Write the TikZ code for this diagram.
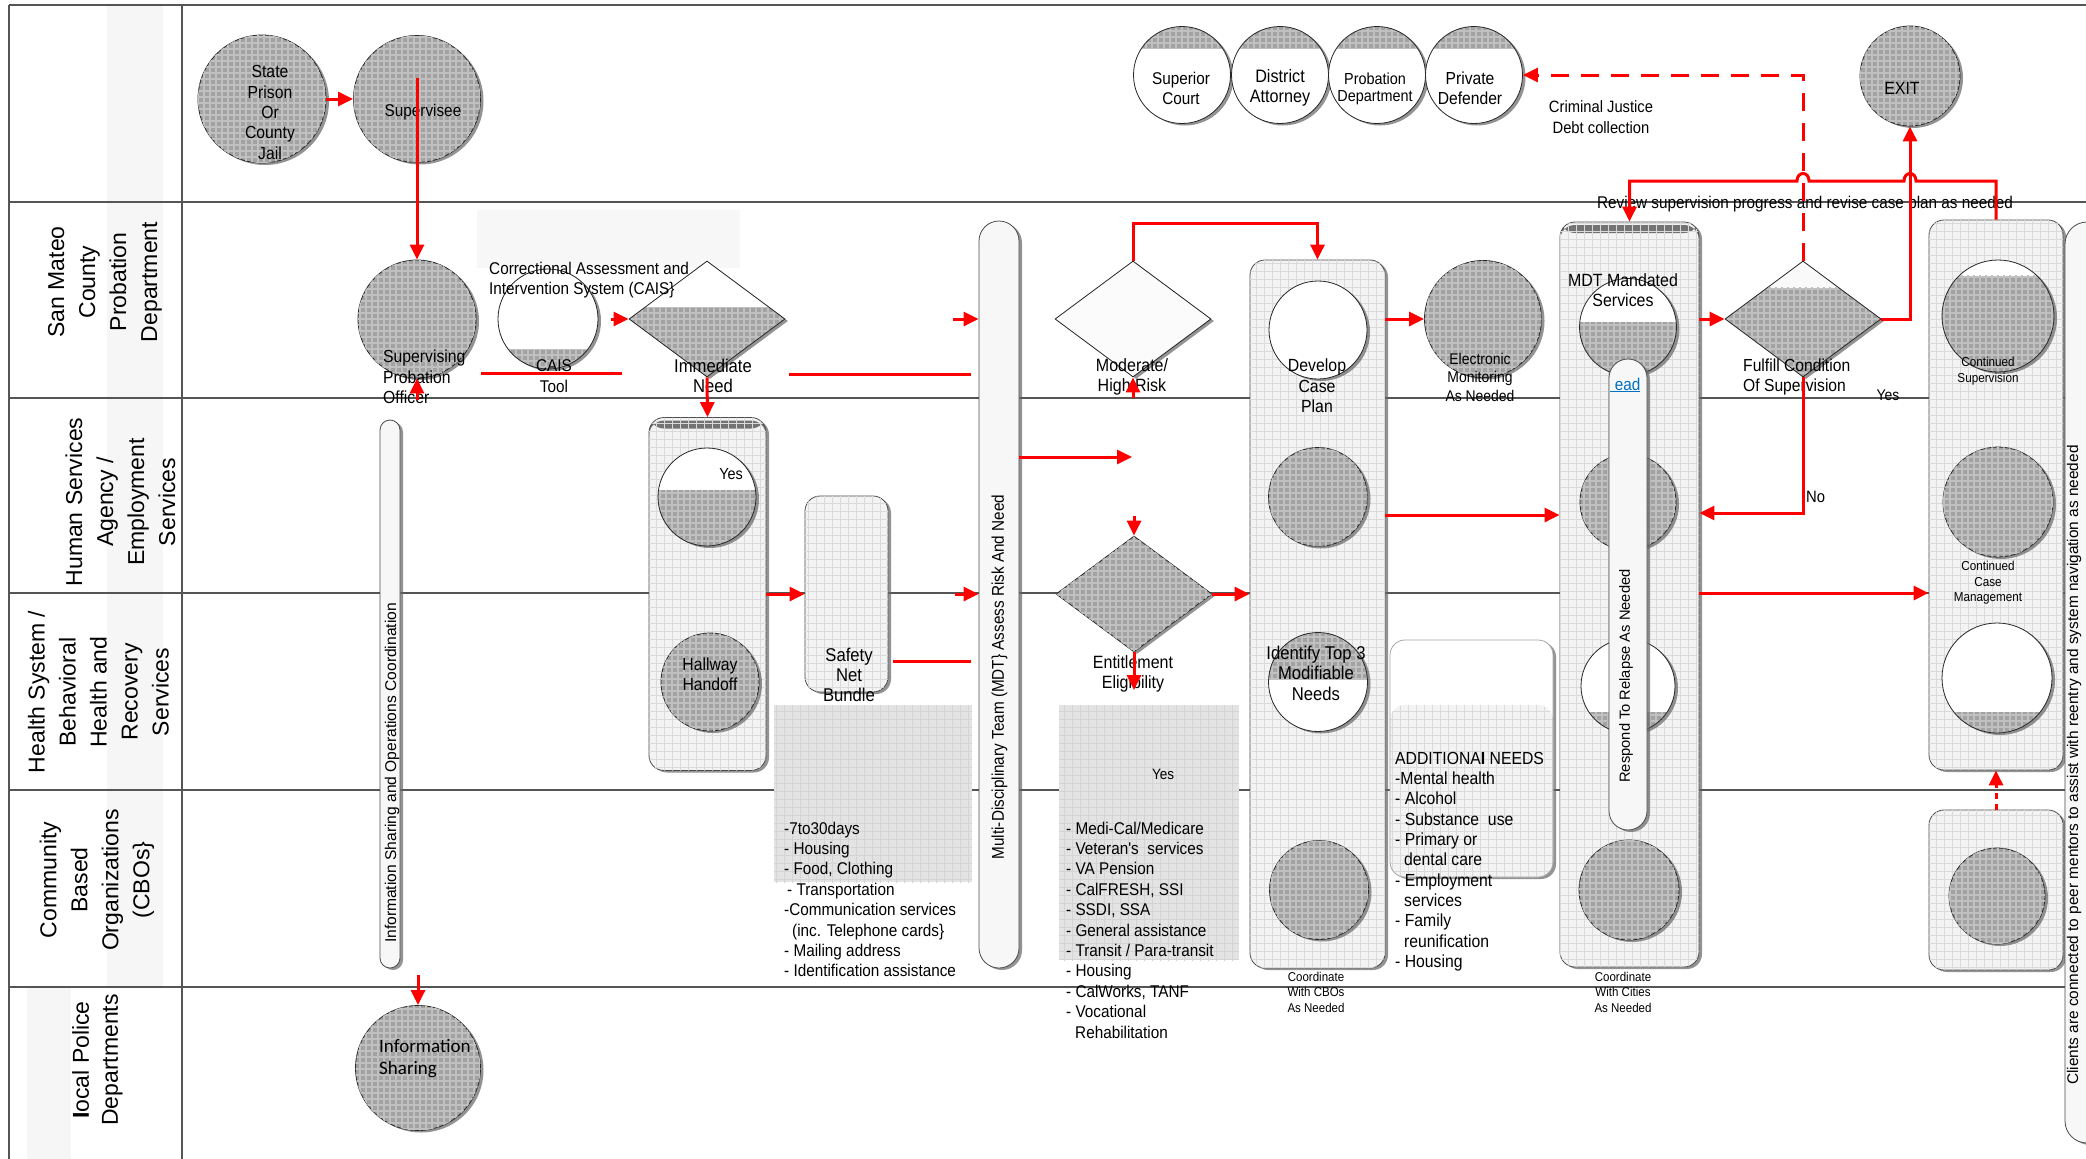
\documentclass[tikz,border=0pt]{standalone}
\usepackage{fontspec}
\setmainfont{Liberation Sans}
\newfontfamily\nf[FakeStretch=0.9]{Liberation Sans}
\newfontfamily\cf{Carlito}
\usetikzlibrary{shapes.geometric,arrows.meta,patterns.meta,shadows,calc}
\newcommand\myfs[2]{\fontsize{#1}{#2}\selectfont}
\definecolor{cg}{RGB}{162,162,162}
\definecolor{cgl}{RGB}{192,192,192}
\definecolor{lanec}{RGB}{85,85,85}
\definecolor{boxf}{RGB}{243,243,243}
\definecolor{boxg}{RGB}{218,218,218}
\definecolor{linkc}{RGB}{0,112,192}
\tikzset{
  gfill/.style={fill=cg, postaction={pattern={Hatch[angle=0,distance=6pt,line width=1.2pt]}, pattern color=cgl}},
  bfill/.style={fill=boxf, postaction={pattern={Hatch[angle=0,distance=8pt,line width=0.5pt]}, pattern color=boxg}},
  lfill/.style={fill=black!11, postaction={pattern={Hatch[angle=0,distance=8pt,line width=0.5pt]}, pattern color=black!17}},
  shad/.style={drop shadow={shadow xshift=3pt,shadow yshift=-2pt,fill=black!60,opacity=0.7}},
  circ/.style={circle, draw=black!85, line width=0.8pt, inner sep=0pt, minimum size=#1, shad},
  gcirc/.style={circ=#1, gfill},
  wcirc/.style={circ=#1, fill=white},
  botg/.style={path picture={\path[gfill] ($(path picture bounding box.south west)!#1!(path picture bounding box.north west)$) rectangle (path picture bounding box.south east);}},
  topg/.style={path picture={\path[gfill] ($(path picture bounding box.north west)!#1!(path picture bounding box.south west)$) rectangle (path picture bounding box.north east);}},
  botb/.style={path picture={\path[bfill] ($(path picture bounding box.south west)!#1!(path picture bounding box.north west)$) rectangle (path picture bounding box.south east);}},
  topbar/.style={path picture={\fill[black!55] ([yshift=-3pt]path picture bounding box.north west) rectangle ([yshift=-11pt]path picture bounding box.north east);}},
  dia/.style={diamond, draw=black!85, line width=0.8pt, inner sep=0pt, minimum width=156pt, minimum height=116pt, shad},
  rbox/.style={rectangle, rounded corners=15pt, draw=black!70, line width=0.8pt, inner sep=0pt, bfill, shad},
  lbg/.style={rectangle, inner sep=0pt, lfill},
  bar/.style={rectangle, rounded corners=#1, draw=black!70, line width=0.8pt, inner sep=0pt, fill=gray!6, shad},
  lane/.style={draw=lanec, line width=2pt},
  rl/.style={draw=red, line width=3pt},
  ra/.style={rl, -{Triangle[length=15pt,width=14pt]}},
  txt/.style={inner sep=0pt, align=center, font=\nf\myfs{17}{20.5}},
  lanelab/.style={inner sep=0pt, align=center, rotate=90, font=\myfs{23}{31}},
}
\begin{document}
\begin{tikzpicture}[x=1pt,y=-1pt]
\useasboundingbox (0,0) rectangle (2086,1159);
\fill[white] (0,0) rectangle (2086,1159);
% label bands
\fill[gray!7] (107,5) rectangle (163,987);
\fill[gray!7] (27,987) rectangle (71,1159);
% lane lines
\foreach \yy in {5,202,398,593,790,987} {\draw[lane] (9,\yy) -- (2086,\yy);}
\draw[lane] (9,5) -- (9,1159);
\draw[lane] (182,5) -- (182,1159);
% faint block
\node[rectangle, inner sep=0pt, fill=gray!6, minimum width=263pt, minimum height=58pt] (faint) at (608.5,239) {};
% boxes
\node[rbox, topbar, minimum width=117pt, minimum height=353pt] (yesbox) at (707.5,594) {};
\node[rbox, minimum width=83pt, minimum height=196pt] (safetybox) at (846.5,594) {};
\node[rbox, minimum width=135pt, minimum height=708pt] (devbox) at (1317.5,614) {};
\node[rbox, topbar, minimum width=139pt, minimum height=745pt] (mdtbox) at (1629.5,594.5) {};
\node[rbox, minimum width=134pt, minimum height=550pt] (contbox) at (1996,495) {};
\node[rbox, minimum width=134pt, minimum height=160pt] (cbobox) at (1996,890) {};
\node[rectangle, rounded corners=15pt, draw=black!35, line width=0.8pt, inner sep=0pt, fill=white, botb=0.726, shad, minimum width=163pt, minimum height=237pt] (addbox) at (1471.5,758.5) {};
% list backgrounds
\node[lbg, minimum width=198pt, minimum height=177pt] (sbg) at (873,793.5) {};
\node[lbg, minimum width=180pt, minimum height=255pt] (ebg) at (1149,832.5) {};
% diamonds
\node[dia, fill=white, botg=0.6] (imm) at (707,319) {};
\node[dia, fill=gray!3] (mod) at (1133,319) {};
\node[dia, gfill] (ent) at (1134,594) {};
\node[dia, fill=gray!5, botg=0.77] (ful) at (1803,319) {};
% circles
\node[gcirc=128pt] (prison) at (262,99) {};
\node[gcirc=127pt] (supervisee) at (417,99) {};
\node[gcirc=118pt] (spo) at (417,319) {};
\node[wcirc=100pt, botg=0.2] (cais) at (548,319) {};
\node[wcirc=97pt, topg=0.23] (superior) at (1182,75) {};
\node[wcirc=97pt, topg=0.23] (district) at (1280,75) {};
\node[wcirc=97pt, topg=0.23] (probdep) at (1377,75) {};
\node[wcirc=97pt, topg=0.23] (pd) at (1474,75) {};
\node[gcirc=100pt] (exit) at (1910,76) {};
\node[wcirc=98pt, botg=0.57] (yescirc) at (707,497) {};
\node[gcirc=98pt] (hallway) at (710,682) {};
\node[wcirc=98pt] (devc) at (1318,330) {};
\node[gcirc=99pt] (devc2) at (1318,497) {};
\node[wcirc=99pt, topg=0.47] (idc) at (1318,682) {};
\node[gcirc=99pt] (devc4) at (1319,890) {};
\node[gcirc=117pt] (em) at (1483,319) {};
\node[wcirc=97pt, botg=0.55] (mdtc) at (1628,327) {};
\node[gcirc=96pt] (mdtc2) at (1628,502) {};
\node[wcirc=94pt, botg=0.22] (mdtc3) at (1628,686) {};
\node[gcirc=100pt] (mdtc4) at (1629,890) {};
\node[wcirc=112pt, botg=0.86] (contc) at (1998,316) {};
\node[gcirc=110pt] (ccm) at (1998,502) {};
\node[wcirc=110pt, botg=0.19] (rc3) at (1997,678) {};
\node[gcirc=96pt] (cboc) at (1997,896) {};
\node[gcirc=125pt] (infoc) at (418,1068) {};
% bars
\node[bar=10pt, minimum width=20pt, minimum height=548pt] (infobar) at (390,694) {};
\node[bar=20pt, minimum width=40pt, minimum height=747pt] (mdtbar) at (999,594.5) {};
\node[bar=19pt, minimum width=38pt, minimum height=471pt] (respbar) at (1628,594.5) {};
\node[bar=22pt, minimum width=45pt, minimum height=921pt] (peerbar) at (2087.5,682.5) {};
% lane labels
\node[lanelab] (lab2) at (105,282) {San Mateo\\County\\Probation\\Department};
\node[lanelab] (lab3) at (120.5,502) {Human Services\\Agency /\\Employment\\Services};
\node[lanelab] (lab4) at (98.5,692) {Health System /\\Behavioral\\Health and\\Recovery\\Services};
\node[lanelab] (lab5) at (97,880) {Community\\Based\\Organizations\\(CBOs\}};
\node[lanelab, font=\myfs{23}{29}] (lab6) at (97.5,1060) {{\bfseries I}ocal Police\\Departments};
% texts
\node[txt, font=\nf\myfs{17.5}{20.3}] (tprison) at (270,112.5) {State\\Prison\\Or\\County\\Jail};
\node[txt] (tsup) at (423,112) {Supervisee};
\node[txt, anchor=west, align=left, font=\nf\myfs{17.5}{20.5}] (tspo) at (383,377) {Supervising\\Probation\\Officer};
\node[txt] (tcais) at (554,376) {CAIS\\Tool};
\node[txt, anchor=west, align=left, font=\nf\myfs{17}{20}] (tcorr) at (489,280) {Correctional Assessment and\\Intervention System (CAIS\}};
\node[txt, font=\nf\myfs{18.5}{20}] (timm) at (713,376) {Immediate\\Need};
\node[txt, font=\nf\myfs{16}{20}] (tyes1) at (731,474) {Yes};
\node[txt, font=\nf\myfs{17.5}{20}] (thall) at (710,674) {Hallway\\Handoff};
\node[txt, font=\nf\myfs{18.5}{20}] (tsafe) at (849,675) {Safety\\Net\\Bundle};
\node[txt, anchor=west, align=left, font=\nf\myfs{17}{20.4}] (tslist) at (784,899.5) {-7to30days\\- Housing\\- Food, Clothing\\\hspace{3pt}- Transportation\\-Communication services\\\hspace{8pt}(inc. Telephone cards\}\\- Mailing address\\- Identification assistance};
\node[txt, font=\nf\myfs{15}{18}] (tyes2) at (1163,774) {Yes};
\node[txt, anchor=west, align=left, font=\nf\myfs{17}{20.4}] (telist) at (1066,930) {- Medi-Cal/Medicare\\- Veteran's\ \ services\\- VA Pension\\- CalFRESH, SSI\\- SSDI, SSA\\- General assistance\\- Transit / Para-transit\\- Housing\\- CalWorks, TANF\\- Vocational\\\hspace{9pt}Rehabilitation};
\node[txt, font=\nf\myfs{17.8}{20}] (tmod) at (1132,377) {Moderate/\\High Risk};
\node[txt, font=\nf\myfs{17.8}{20}] (tent) at (1133,674) {Entitlement\\Eligibility};
\node[txt, rotate=90, font=\nf\myfs{17}{20}] (tmdtbar) at (999.5,677) {Multi-Disciplinary Team (MDT\} Assess Risk And Need};
\node[txt, rotate=90, font=\myfs{15.6}{18}] (tinfobar) at (392,773) {Information Sharing and Operations Coordination};
\node[txt, font=\nf\myfs{17.6}{20.5}] (tdev) at (1317,386) {Develop\\Case\\Plan};
\node[txt, font=\nf\myfs{18.5}{20.5}] (tid) at (1316,673) {Identify Top 3\\Modifiable\\Needs};
\node[txt, font=\nf\myfs{12.8}{15.5}] (tcbo) at (1316,992) {Coordinate\\With CBOs\\As Needed};
\node[txt, font=\nf\myfs{15.5}{18.5}] (tem) at (1480,377) {Electronic\\Monitoring\\As Needed};
\node[txt, anchor=west, align=left, font=\nf\myfs{17.5}{20.3}] (tadd) at (1395,861.5) {ADDITIONA{\bfseries I} NEEDS\\-Mental health\\- Alcohol\\- Substance\ \ use\\- Primary or\\\hspace{9pt}dental care\\- Employment\\\hspace{9pt}services\\- Family\\\hspace{9pt}reunification\\- Housing};
\node[txt, font=\nf\myfs{17.7}{20}] (tmdt) at (1623,290) {MDT Mandated\\Services};
\node[txt, text=linkc, font=\nf\myfs{17}{20}] (tead) at (1625,385) {\underline{\hspace{5pt}ead}};
\node[txt, rotate=90, font=\myfs{14.7}{18}] (tresp) at (1626,676) {Respond To Relapse As Needed};
\node[txt, font=\nf\myfs{12.8}{15.5}] (tcities) at (1623,992) {Coordinate\\With Cities\\As Needed};
\node[txt, anchor=west, align=left, font=\nf\myfs{17.4}{20}] (tful) at (1743,377) {Fulfill Condition\\Of Supervision};
\node[txt, font=\nf\myfs{15.5}{18}] (tyes3) at (1888,395) {Yes};
\node[txt, anchor=west, font=\nf\myfs{16.5}{18}] (tno) at (1806,497) {No};
\node[txt, font=\nf\myfs{16.4}{21}] (tcjd) at (1601,117) {Criminal Justice\\Debt collection};
\node[txt, font=\nf\myfs{17}{20}] (trev) at (1805,204) {Review supervision progress and revise case plan as needed};
\node[txt, font=\nf\myfs{17.7}{20}] (texit) at (1902,88) {EXIT};
\node[txt, font=\nf\myfs{17}{20}] (tsc) at (1181,88) {Superior\\Court};
\node[txt, font=\nf\myfs{18}{20}] (tda) at (1280,88) {District\\Attorney};
\node[txt, font=\nf\myfs{16}{17}] (tpdp) at (1375,88.5) {Probation\\Department};
\node[txt, font=\nf\myfs{17.4}{20}] (tpd) at (1470,88) {Private\\Defender};
\node[txt, font=\nf\myfs{13}{16}] (tcs) at (1988,371) {Continued\\Supervision};
\node[txt, font=\nf\myfs{13}{15.5}] (tccm) at (1988,583) {Continued\\Case\\Management};
\node[txt, rotate=90, font=\myfs{15.4}{18}] (tpeer) at (2074,765) {Clients are connected to peer mentors to assist with reentry and system navigation as needed};
\node[txt, anchor=west, align=left, font=\cf\myfs{19}{22}] (tinfo) at (379,1059) {Information\\Sharing};
% connectors
\coordinate (svs) at (417,78);
\coordinate (l1a) at (481,373); \coordinate (l1b) at (622,373);
\coordinate (h1) at (611,319);
\coordinate (l2a) at (789,374); \coordinate (l2b) at (971,374);
\coordinate (h2) at (953,319);
\coordinate (l3a) at (893,661); \coordinate (l3b) at (971,661);
\coordinate (h3) at (955,594);
\coordinate (m1) at (999,457); \coordinate (m1e) at (1132,457);
\coordinate (e0) at (1134,516);
\coordinate (e1) at (1134,690);
\coordinate (m0) at (1133,398);
\coordinate (t223) at (0,223);
\coordinate (y515) at (0,515);
\coordinate (y513) at (0,513);
\coordinate (y593) at (0,593);
\coordinate (y181) at (0,181);
\coordinate (ibt) at (0,400);
\coordinate (ibb) at (0,975);
\draw[ra] (prison) -- (supervisee);
\draw[ra] (svs) -- (spo.north);
\draw[ra] (spo.south |- ibt) -- (spo.south);
\draw[ra] (infoc.north |- ibb) -- (infoc.north);
\draw[rl] (l1a) -- (l1b);
\draw[ra] (h1) -- (imm.west);
\draw[ra] (imm.south) -- (yesbox.north);
\draw[rl] (l2a) -- (l2b);
\draw[ra] (h2) -- (h2 -| mdtbar.west);
\draw[ra] (yesbox.east) -- (safetybox.west);
\draw[rl] (l3a) -- (l3b);
\draw[ra] (h3) -- (h3 -| mdtbar.west);
\draw[ra] (m1 -| mdtbar.east) -- (m1e);
\draw[ra] (e0) -- (ent.north);
\draw[ra] (ent.south) -- (e1);
\draw[ra] (ent.east) -- (ent.east -| devbox.west);
\draw[ra] (m0) -- (mod.south);
\draw[ra] (mod.north) -- (mod.north |- t223) -| (devbox.north);
\draw[ra] (em.west -| devbox.east) -- (em.west);
\draw[ra] (y515 -| devbox.east) -- (y515 -| mdtbox.west);
\draw[ra] (ful.west -| mdtbox.east) -- (ful.west);
\draw[ra] (ful.east) -| (exit.south);
\draw[ra, dash pattern=on 18pt off 12pt] (ful.north) |- (pd.east);
\draw[ra] (ful.south) |- (y513 -| mdtbox.east);
\draw[ra] (y593 -| mdtbox.east) -- (y593 -| contbox.west);
\draw[ra, dash pattern=on 6pt off 5pt] (cbobox.north) -- (contbox.south);
\draw[ra] (contbox.north) -- (contbox.north |- y181) -- (1916,181) .. controls (1916,171) and (1904,171) .. (1904,181) -- (1809,181) .. controls (1809,171) and (1797,171) .. (1797,181) -- (mdtbox.north |- y181) -- (mdtbox.north);
\end{tikzpicture}
\end{document}
